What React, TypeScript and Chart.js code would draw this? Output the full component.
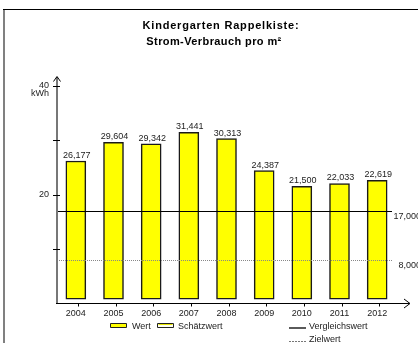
import React, { useEffect, useRef } from 'react';
import { Chart, registerables } from 'chart.js';

Chart.register(...registerables);

const years = ['2004', '2005', '2006', '2007', '2008', '2009', '2010', '2011', '2012'];
const werte = [26.177, 29.604, 29.342, 31.441, 30.313, 24.387, 21.5, 22.033, 22.619];
const vergleichswert = 17;
const zielwert = 8;
const yMin = 0;
const yMax = 40;
const yStep = 10;
const yLabeled = [20, 40];
const yUnit = 'kWh';
const titleLines = ['Kindergarten Rappelkiste:', 'Strom-Verbrauch pro m²'];
const legendBarLabels = ['Wert', 'Schätzwert'];
const legendLineLabels = ['Vergleichswert', 'Zielwert'];

const FONT = '"Liberation Sans", Arial, sans-serif';
const fmt = (v: number) => v.toFixed(3).replace('.', ',');

const decorPlugin = {
  id: 'decor',
  afterDraw(chart: any) {
    const ctx = chart.ctx as CanvasRenderingContext2D;
    const y = chart.scales.y;
    const x = chart.scales.x;
    const area = chart.chartArea;
    ctx.save();

    // frame
    ctx.fillStyle = '#808080';
    ctx.fillRect(3, 9, 2, 340);
    ctx.strokeStyle = '#000';
    ctx.lineWidth = 1;
    ctx.beginPath();
    ctx.moveTo(3, 9.5);
    ctx.lineTo(418, 9.5);
    ctx.stroke();

    // title
    ctx.fillStyle = '#000';
    ctx.font = `bold 11px ${FONT}`;
    (ctx as any).letterSpacing = '0.8px';
    ctx.textAlign = 'center';
    ctx.textBaseline = 'middle';
    ctx.fillText(titleLines[0], 221, 26);
    (ctx as any).letterSpacing = '0.4px';
    ctx.fillText(titleLines[1], 214, 42);
    (ctx as any).letterSpacing = '0px';

    const x0 = area.left;
    const yBase = y.getPixelForValue(yMin);

    // reference lines
    const lineEnd = 392;
    ctx.strokeStyle = '#000';
    ctx.lineWidth = 1;
    const yv = Math.round(y.getPixelForValue(vergleichswert)) + 0.5;
    ctx.beginPath();
    ctx.moveTo(x0, yv);
    ctx.lineTo(lineEnd, yv);
    ctx.stroke();
    const yz = Math.round(y.getPixelForValue(zielwert)) + 0.5;
    ctx.strokeStyle = '#888';
    ctx.setLineDash([1, 1]);
    ctx.beginPath();
    ctx.moveTo(x0, yz);
    ctx.lineTo(lineEnd, yz);
    ctx.stroke();
    ctx.setLineDash([]);

    ctx.fillStyle = '#222';
    ctx.font = `9px ${FONT}`;
    ctx.textAlign = 'right';
    ctx.textBaseline = 'middle';
    ctx.fillText(fmt(vergleichswert), 421, yv + 5);
    ctx.fillText(fmt(zielwert), 421, yz + 5);

    // y axis
    ctx.strokeStyle = '#777';
    ctx.lineWidth = 2;
    ctx.beginPath();
    ctx.moveTo(x0, yBase);
    ctx.lineTo(x0, 77);
    ctx.stroke();
    ctx.strokeStyle = '#000';
    ctx.lineWidth = 1;
    ctx.beginPath();
    ctx.moveTo(53.5, 81.5);
    ctx.lineTo(57, 76.5);
    ctx.lineTo(60.5, 81.5);
    ctx.stroke();
    for (let v = yMin + yStep; v <= yMax; v += yStep) {
      const py = Math.round(y.getPixelForValue(v)) + 0.5;
      ctx.beginPath();
      ctx.moveTo(53, py);
      ctx.lineTo(60, py);
      ctx.stroke();
    }
    ctx.fillStyle = '#222';
    ctx.font = `9px ${FONT}`;
    ctx.textAlign = 'right';
    ctx.textBaseline = 'middle';
    ctx.fillText(yUnit, 49, y.getPixelForValue(yMax) + 8);

    // x axis
    const ya = Math.round(yBase) + 0.5;
    ctx.strokeStyle = '#000';
    ctx.lineWidth = 1;
    ctx.beginPath();
    ctx.moveTo(x0 - 1, ya);
    ctx.lineTo(409.5, ya);
    ctx.stroke();
    ctx.beginPath();
    ctx.moveTo(404, ya - 4.5);
    ctx.lineTo(410, ya);
    ctx.lineTo(404, ya + 4.5);
    ctx.stroke();
    years.forEach((_, i) => {
      const px = Math.round(x.getPixelForValue(i)) + 2.5;
      ctx.beginPath();
      ctx.moveTo(px, ya);
      ctx.lineTo(px, ya + 3);
      ctx.stroke();
    });

    // value labels
    const meta = chart.getDatasetMeta(0);
    ctx.fillStyle = '#222';
    ctx.font = `9px ${FONT}`;
    ctx.textAlign = 'center';
    ctx.textBaseline = 'alphabetic';
    meta.data.forEach((bar: any, i: number) => {
      ctx.fillText(fmt(werte[i]), bar.x + 1, bar.y - 3);
    });

    // legend
    const boxY = 323;
    ctx.lineWidth = 1;
    ctx.strokeStyle = '#222';
    ctx.fillStyle = '#ffff00';
    ctx.beginPath();
    ctx.rect(110.5, boxY + 0.5, 16, 4);
    ctx.fill();
    ctx.stroke();
    ctx.fillStyle = '#fffff0';
    ctx.beginPath();
    ctx.rect(157.5, boxY + 0.5, 16, 4);
    ctx.fill();
    ctx.stroke();
    ctx.strokeStyle = '#e6e600';
    ctx.beginPath();
    ctx.moveTo(158.5, boxY + 1.5);
    ctx.lineTo(172.5, boxY + 1.5);
    ctx.stroke();

    ctx.fillStyle = '#222';
    ctx.font = `9px ${FONT}`;
    ctx.textAlign = 'left';
    ctx.textBaseline = 'middle';
    ctx.fillText(legendBarLabels[0], 132, 327);
    ctx.fillText(legendBarLabels[1], 178, 327);

    ctx.strokeStyle = '#000';
    ctx.lineWidth = 1.3;
    ctx.beginPath();
    ctx.moveTo(289, 328);
    ctx.lineTo(306, 328);
    ctx.stroke();
    ctx.strokeStyle = '#777';
    ctx.lineWidth = 1;
    ctx.setLineDash([2, 1]);
    ctx.beginPath();
    ctx.moveTo(289, 341.5);
    ctx.lineTo(306, 341.5);
    ctx.stroke();
    ctx.setLineDash([]);
    ctx.fillText(legendLineLabels[0], 309, 327);
    ctx.fillText(legendLineLabels[1], 309, 340);

    ctx.restore();
  },
};

export default function App() {
  const ref = useRef<HTMLCanvasElement | null>(null);
  useEffect(() => {
    if (!ref.current) return;
    const chart = new Chart(ref.current, {
      type: 'bar',
      data: {
        labels: years,
        datasets: [
          {
            label: legendBarLabels[0],
            data: werte,
            backgroundColor: '#ffff00',
            borderColor: '#1a1a1a',
            borderWidth: 1.5,
            borderSkipped: false,
            barThickness: 20,
            base: 0.7,
          } as any,
        ],
      },
      options: {
        animation: false,
        responsive: false,
        maintainAspectRatio: false,
        layout: { padding: { left: 0, right: 22, top: 86, bottom: 0 } },
        plugins: {
          legend: { display: false },
          title: { display: false },
          tooltip: { enabled: false },
        },
        scales: {
          x: {
            offset: true,
            grid: { display: false, drawTicks: false },
            border: { display: false },
            ticks: {
              color: '#222',
              font: { family: FONT, size: 9 },
              padding: 5,
              maxRotation: 0,
            },
            afterFit: (s: any) => {
              s.height = 40;
            },
          },
          y: {
            min: yMin,
            max: yMax,
            grid: { display: false, drawTicks: false },
            border: { display: false },
            ticks: {
              stepSize: yStep,
              color: '#222',
              font: { family: FONT, size: 9 },
              padding: 8,
              callback: (v: any) => (yLabeled.includes(Number(v)) ? String(v) : ''),
            },
            afterFit: (s: any) => {
              s.width = 57;
            },
          },
        },
      },
      plugins: [decorPlugin],
    });
    return () => chart.destroy();
  }, []);
  return (
    <div style={{ position: 'absolute', left: 0, top: 0, width: 418, height: 343, background: '#fff' }}>
      <canvas ref={ref} width={418} height={343} style={{ display: 'block', width: 418, height: 343 }} />
    </div>
  );
}
